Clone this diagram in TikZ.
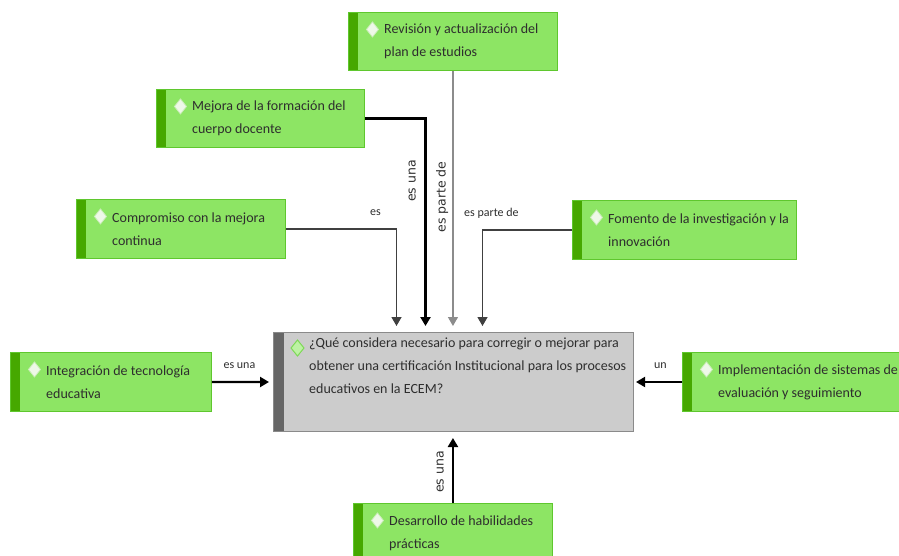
\documentclass[tikz,border=0pt]{standalone}
\usepackage{fontspec}
\setmainfont{Carlito}
\newfontfamily\dejavu{DejaVu Sans}
\usetikzlibrary{arrows.meta}
\definecolor{leafgreen}{HTML}{8DE564}
\definecolor{leafedge}{HTML}{5FC72E}
\definecolor{leafstripe}{HTML}{46A800}
\definecolor{corefill}{HTML}{CCCCCC}
\definecolor{coreedge}{HTML}{8A8A8A}
\definecolor{corestripe}{HTML}{666666}
\definecolor{inktext}{HTML}{2E2E2E}
\definecolor{gemfill}{HTML}{EEF8E8}
\definecolor{gemedge}{HTML}{CDEDBB}
\definecolor{qgemfill}{HTML}{BDF2A4}
\definecolor{qgemedge}{HTML}{7ED957}
\tikzset{idea/.style={rectangle, draw=leafedge, fill=leafgreen, line width=0.9pt,
   inner sep=0pt, anchor=north west,
   path picture={
     \fill[leafstripe] (path picture bounding box.north west) rectangle ([xshift=10pt]path picture bounding box.south west);
     \draw[gemedge, fill=gemfill, line width=0.8pt] ([xshift=24pt,yshift=-9.5pt]path picture bounding box.north west)
       -- ++(6pt,-7.5pt) -- ++(-6pt,-7.5pt) -- ++(-6pt,7.5pt) -- cycle;
   }}}
\tikzset{query/.style={rectangle, draw=coreedge, fill=corefill, line width=1pt,
   inner sep=0pt, anchor=north west,
   path picture={
     \fill[corestripe] (path picture bounding box.north west) rectangle ([xshift=10pt]path picture bounding box.south west);
     \draw[qgemedge, fill=qgemfill, line width=1pt] ([xshift=24pt,yshift=-7.5pt]path picture bounding box.north west)
       -- ++(6.5pt,-8pt) -- ++(-6.5pt,-8pt) -- ++(-6.5pt,8pt) -- cycle;
   }}}
\tikzset{words/.style={align=left, inner sep=0pt, text=inktext, font=\fontsize{14}{23}\selectfont}}
\tikzset{tag/.style={anchor=base, yshift=13pt, inner sep=0pt, text=inktext, font=\fontsize{12}{14}\selectfont}}
\tikzset{vtag/.style={anchor=base, rotate=90, inner sep=0pt, text=inktext, font=\dejavu\fontsize{12.5}{15}\selectfont}}
\tikzset{link/.style={line width=1.3pt, draw=black!75, -{Triangle[width=10pt,length=9pt]}}}
\tikzset{boldlink/.style={link, line width=2.4pt, draw=black}}
\tikzset{palelink/.style={link, line width=1.2pt, draw=black!45}}

\begin{document}
\begin{tikzpicture}[x=1pt, y=-1pt]

    \clip (0,0) rectangle (899,555);

    \node[query, minimum width=360pt, minimum height=99pt,
      label={[words, anchor=north west, xshift=36pt, yshift=-6pt]north west:{¿Qué considera necesario para corregir o mejorar para\\obtener una certificación Institucional para los procesos\\educativos en la ECEM?}}]
      (cen) at (273,332) {};

    \node[idea, minimum width=209pt, minimum height=58pt,
      label={[words, anchor=west, xshift=36pt]west:{Revisión y actualización del\\plan de estudios}}] (rev) at (348,12) {};
    \node[idea, minimum width=208pt, minimum height=58pt,
      label={[words, anchor=west, xshift=36pt]west:{Mejora de la formación del\\cuerpo docente}}] (mej) at (156,89) {};
    \node[idea, minimum width=209pt, minimum height=59pt,
      label={[words, anchor=west, xshift=36pt]west:{Compromiso con la mejora\\continua}}] (com) at (76,199) {};
    \node[idea, minimum width=224pt, minimum height=59pt,
      label={[words, anchor=west, xshift=36pt]west:{Fomento de la investigación y la\\innovación}}] (fom) at (572,200) {};
    \node[idea, minimum width=201pt, minimum height=59pt,
      label={[words, anchor=west, xshift=36pt]west:{Integración de tecnología\\educativa}}] (int) at (10,352) {};
    \node[idea, minimum width=230pt, minimum height=59pt,
      label={[words, anchor=west, xshift=36pt]west:{Implementación de sistemas de\\evaluación y seguimiento}}] (imp) at (682,352) {};
    \node[idea, minimum width=199pt, minimum height=60pt,
      label={[words, anchor=west, xshift=36pt]west:{Desarrollo de habilidades\\prácticas}}] (des) at (353,503) {};

    % top connectors
    \draw[link, shorten >=6pt] (com.east) -| node[tag, pos=0.405] (t-com) {es} ([xshift=-57pt]cen.north);
    \draw[boldlink, shorten >=6pt] (mej.east) -| ([xshift=-28pt]cen.north);
    \draw[palelink, shorten >=6pt] (rev.south) -- (rev.south |- cen.north);
    \draw[link, shorten >=6pt] (fom.west) -| node[tag, pos=0.45] (t-fom) {es parte de} ([xshift=29pt]cen.north);

    % side and bottom connectors
    \draw[boldlink, shorten >=4pt] (int.east) -- node[tag, pos=0.45] (t-int) {es una} (cen.west);
    \draw[link, line width=1.8pt, draw=black, shorten >=2pt] (imp.west) -- node[tag, pos=0.45] (t-imp) {un} (cen.east);
    \draw[boldlink, shorten >=6pt] (des.north) -- (des.north |- cen.south);

    \node[vtag] (t-mej) at (415.5,181) {es una};
    \node[vtag] (t-rev) at (445.5,197) {es parte de};
    \node[vtag] (t-des) at (443.5,472) {es una};

\end{tikzpicture}
\end{document}
